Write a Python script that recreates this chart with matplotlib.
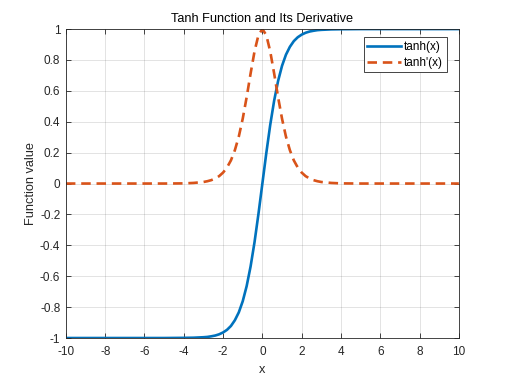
import matplotlib
matplotlib.use("Agg")
import matplotlib.pyplot as plt

plt.rcParams['font.family'] = ['Liberation Sans', 'DejaVu Sans']
plt.rcParams['axes.unicode_minus'] = False

# Values
x_vals = [-10, -5, -4, -3.5, -3, -2.8, -2.6, -2.4, -2.2, -2, -1.8, -1.6, -1.4, -1.2, -1, -0.8, -0.6, -0.4, -0.2,
          0, 0.2, 0.4, 0.6, 0.8, 1, 1.2, 1.4, 1.6, 1.8, 2, 2.2, 2.4, 2.6, 2.8, 3, 3.5, 4, 5, 10]
tanh_vals = [-1.0, -1.0, -0.999, -0.998, -0.995, -0.993, -0.989, -0.984, -0.976, -0.964, -0.947, -0.922, -0.885,
             -0.834, -0.762, -0.664, -0.537, -0.380, -0.197,
             0.0, 0.197, 0.380, 0.537, 0.664, 0.762, 0.834, 0.885, 0.922, 0.947, 0.964, 0.976, 0.984, 0.989,
             0.993, 0.995, 0.998, 0.999, 1.0, 1.0]
dtanh_vals = [0.0, 0.0, 0.001, 0.004, 0.010, 0.015, 0.022, 0.033, 0.048, 0.071, 0.104, 0.150, 0.216, 0.304, 0.420,
              0.559, 0.712, 0.855, 0.961,
              1.0, 0.961, 0.855, 0.712, 0.559, 0.420, 0.304, 0.216, 0.150, 0.104, 0.071, 0.048, 0.033, 0.022,
              0.015, 0.010, 0.004, 0.001, 0.0, 0.0]
series_labels = ["tanh(x)", "tanh'(x)"]
x_ticks = [-10, -8, -6, -4, -2, 0, 2, 4, 6, 8, 10]
y_ticks = [-1, -0.8, -0.6, -0.4, -0.2, 0, 0.2, 0.4, 0.6, 0.8, 1]
y_tick_labels = ["-1", "-0.8", "-0.6", "-0.4", "-0.2", "0", "0.2", "0.4", "0.6", "0.8", "1"]

axc = '#262626'
fig = plt.figure(figsize=(5.07, 3.80), dpi=100)
ax = fig.add_axes([0.130, 0.1105, 0.775, 0.813])

ax.plot(x_vals, tanh_vals, color='#0072BD', lw=1.9, label=series_labels[0])
ax.plot(x_vals, dtanh_vals, color='#D95319', lw=1.9, ls='--', dashes=(3.6, 2.2), label=series_labels[1])

ax.set_xlim(-10, 10)
ax.set_ylim(-1, 1)
ax.set_xticks(x_ticks)
ax.set_xticklabels([str(t) for t in x_ticks])
ax.set_yticks(y_ticks)
ax.set_yticklabels(y_tick_labels)
ax.grid(True, color=axc, alpha=0.15, lw=0.6)
ax.tick_params(direction='in', length=3.5, width=0.6, colors=axc, labelsize=8.5,
               top=True, right=True, labelcolor=axc, pad=4)
ax.tick_params(axis='x', pad=6)
for s in ax.spines.values():
    s.set_color(axc)
    s.set_linewidth(0.6)

ax.set_title('Tanh Function and Its Derivative', fontsize=9.2, color='black', pad=5)
ax.set_xlabel('x', fontsize=9.2, color=axc, labelpad=4)
ax.set_ylabel('Function value', fontsize=9.2, color=axc, labelpad=2)

leg = ax.legend(loc='upper right', bbox_to_anchor=(0.9695, 0.974), borderaxespad=0,
                fontsize=8.5, fancybox=False, framealpha=1, edgecolor=axc,
                handlelength=2.9, handletextpad=0.25, borderpad=0.3, labelspacing=0.35)
leg.get_frame().set_linewidth(0.6)

fig.savefig('out.png', dpi=100)
